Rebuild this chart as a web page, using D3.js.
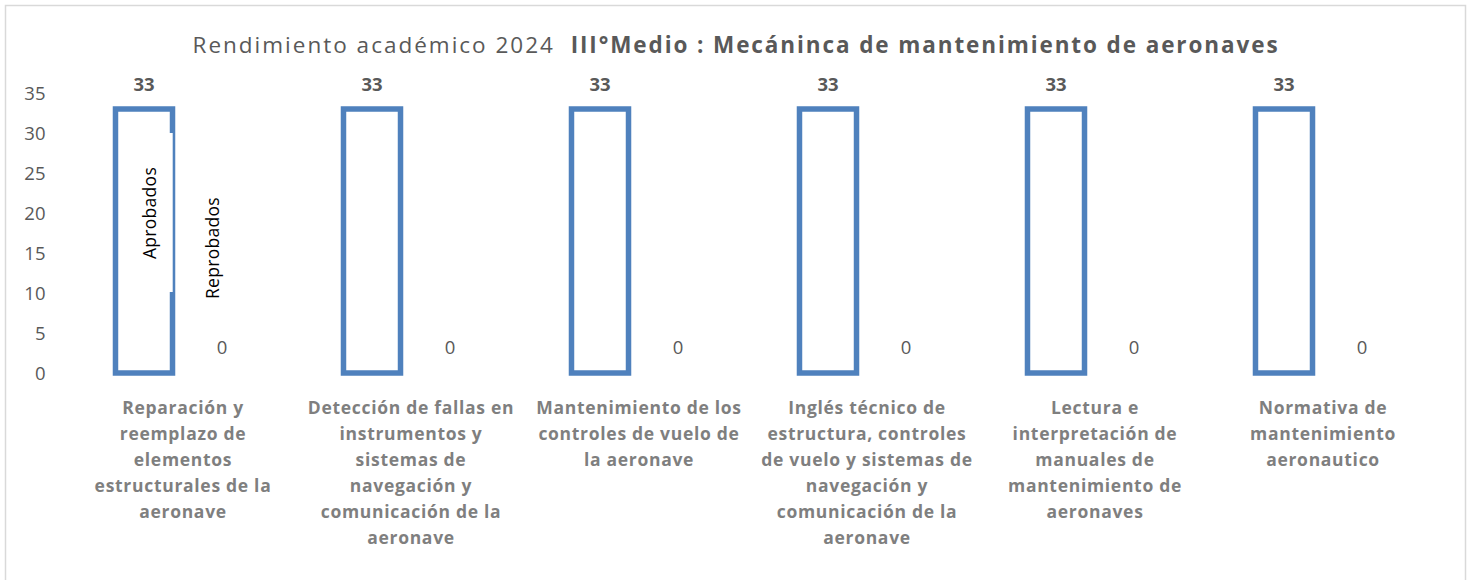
<!DOCTYPE html>
<html><head><meta charset="utf-8">
<script src="https://cdn.jsdelivr.net/npm/d3@7"></script>
<style>
html,body{margin:0;padding:0;background:#fff;}
svg{display:block;}
</style></head>
<body>
<svg id="chart" width="1472" height="580"></svg>
<script>
const categories = [
  ["Reparación y","reemplazo de","elementos","estructurales de la","aeronave"],
  ["Detección de fallas en","instrumentos y","sistemas de","navegación y","comunicación de la","aeronave"],
  ["Mantenimiento de los","controles de vuelo de","la aeronave"],
  ["Inglés técnico de","estructura, controles","de vuelo y sistemas de","navegación y","comunicación de la","aeronave"],
  ["Lectura e","interpretación de","manuales de","mantenimiento de","aeronaves"],
  ["Normativa de","mantenimiento","aeronautico"]
];
const seriesNames = ["Aprobados","Reprobados"];
const aprobados = [33,33,33,33,33,33];
const reprobados = [0,0,0,0,0,0];
const yTicks = [0,5,10,15,20,25,30,35];
const titleNormal = "Rendimiento académico 2024  ";
const titleBold = "III°Medio : Mecáninca de mantenimiento de aeronaves";

const svg = d3.select("#chart");
const font = "'Open Sans', 'Noto Sans', sans-serif";
const gray = "#595959";

// outer border
svg.append("rect").attr("x",5.5).attr("y",5.5).attr("width",1460).attr("height",600)
  .attr("fill","#fff").attr("stroke","#d9d9d9").attr("stroke-width",1.5);

const pLeft = 69, pRight = 1437, pTop = 93, pBottom = 373;
const x0 = d3.scaleBand().domain(d3.range(categories.length)).range([pLeft,pRight]).paddingInner(0).paddingOuter(0);
const y = d3.scaleLinear().domain([0,35]).range([pBottom, pTop]);
const x1 = d3.scaleBand().domain(seriesNames).range([-x0.bandwidth()/2, x0.bandwidth()/2]).paddingInner(0.269).paddingOuter(0.596);

// title
const title = svg.append("text").attr("x", 736).attr("y", 53).attr("text-anchor","middle")
  .attr("font-family", font).attr("font-size", 22.5).attr("fill", gray).style("white-space","pre");
title.append("tspan").attr("letter-spacing", 2.0).text(titleNormal);
title.append("tspan").attr("font-weight","bold").attr("letter-spacing",1.9).text(titleBold);

// y axis
const yAxis = d3.axisLeft(y).tickValues(yTicks).tickSize(0).tickPadding(0);
const gy = svg.append("g").attr("transform", `translate(${45.5},0)`).call(yAxis);
gy.select(".domain").remove();
gy.selectAll("text").attr("font-family", font).attr("font-size", 18.5).attr("fill", gray).attr("dy","0.35em");

// bars
const series = [aprobados, reprobados];
const groups = svg.append("g").selectAll("g").data(categories).join("g")
  .attr("transform",(d,i)=>`translate(${x0(i)+x0.bandwidth()/2},0)`);

groups.each(function(cat, i){
  const g = d3.select(this);
  series.forEach((vals, s)=>{
    const v = vals[i];
    const bx = x1(seriesNames[s]);
    g.append("rect").attr("x", bx).attr("y", y(v)).attr("width", x1.bandwidth()).attr("height", pBottom - y(v))
      .attr("fill", "none").attr("stroke", v>0 ? "#4F81BD" : "none").attr("stroke-width", 5.5);
    g.append("text").attr("x", bx + x1.bandwidth()/2).attr("y", y(v) - (v>0?18:19))
      .attr("text-anchor","middle").attr("font-family", font).attr("font-size", 18.5)
      .attr("font-weight", v>0 ? "bold":"normal").attr("fill", gray).text(v);
  });
  // category labels
  const t = g.append("text").attr("text-anchor","middle").attr("font-family", font)
    .attr("font-size", 17.5).attr("letter-spacing", 0.7).attr("font-weight","bold").attr("fill","#7f7f7f");
  cat.forEach((line, k)=>{
    t.append("tspan").attr("x",0).attr("y", 414 + k*26).text(line);
  });
});

// series name labels (first group only)
const g0x = x0(0) + x0.bandwidth()/2;
const aCenter = g0x + x1(seriesNames[0]) + x1.bandwidth()/2;
const rCenter = g0x + x1(seriesNames[1]) + x1.bandwidth()/2;
svg.append("rect").attr("x", aCenter + 8).attr("y", 133).attr("width", 20.7).attr("height", 159).attr("fill","#fff");
svg.append("text").attr("transform",`translate(${aCenter+12},${213}) rotate(-90)`)
  .attr("text-anchor","middle").attr("font-family", font).attr("font-size", 17.5).attr("letter-spacing", 0.3)
  .attr("fill","#000").text(seriesNames[0]);
svg.append("text").attr("transform",`translate(${rCenter-3},${248}) rotate(-90)`)
  .attr("text-anchor","middle").attr("font-family", font).attr("font-size", 17.5).attr("letter-spacing", 0.3)
  .attr("fill","#000").text(seriesNames[1]);
</script>
</body></html>
